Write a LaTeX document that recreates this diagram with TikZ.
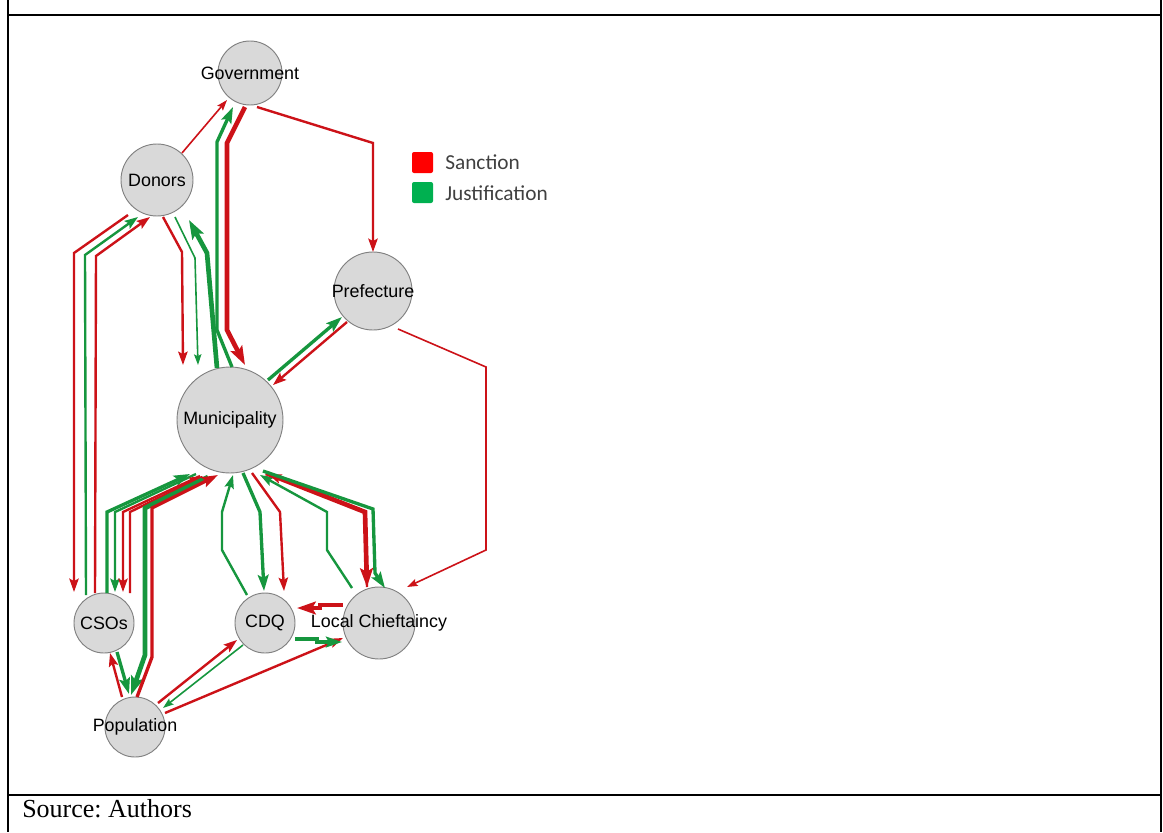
\documentclass[tikz,border=0pt]{standalone}
\usepackage{fontspec}
\setmainfont{Liberation Serif}
\newfontfamily\arialf{Liberation Sans}
\newfontfamily\calibrif{Carlito}
\usetikzlibrary{arrows.meta,calc}
\definecolor{edR}{RGB}{204,18,24}
\definecolor{edG}{RGB}{22,150,62}
\definecolor{ndfill}{RGB}{217,217,217}
\definecolor{ndline}{RGB}{128,128,128}
\definecolor{legR}{RGB}{255,0,0}
\definecolor{legG}{RGB}{0,176,80}
\definecolor{legT}{RGB}{64,64,64}
\tikzset{
  nd/.style={circle,draw=ndline,fill=ndfill,line width=0.7pt,inner sep=0pt,minimum size=#1},
  lbl/.style={font=\arialf\fontsize{13.4}{15}\selectfont,inner sep=0pt},
  legtxt/.style={font=\calibrif\fontsize{16}{18}\selectfont,text=legT,inner sep=0pt,anchor=west},
  wI/.style={line width=1.2pt,-{Stealth[length=8pt,width=5.5pt,inset=1.4pt]}},
  wII/.style={line width=1.8pt,-{Stealth[length=10pt,width=7pt,inset=1.8pt]}},
  wIII/.style={line width=2.5pt,-{Stealth[length=12pt,width=8pt,inset=2.2pt]}},
  wIV/.style={line width=3.5pt,-{Stealth[length=14pt,width=9.5pt,inset=2.6pt]}},
  sR/.style={draw=edR},
  sG/.style={draw=edG},
  frameline/.style={line width=1.5pt,draw=black},
}
\begin{document}
\begin{tikzpicture}[x=0.75pt,y=-0.75pt]
\useasboundingbox (0,0) rectangle (1163,832);
% frame
\draw[frameline] (8,0) -- (8,832);
\draw[frameline] (1161,0) -- (1161,832);
\draw[frameline] (8,15) -- (1161,15);
\draw[frameline] (8,795) -- (1161,795);
\node[anchor=base west,font=\fontsize{19.5}{23}\selectfont,inner sep=0pt] (src) at (22,817) {\frenchspacing Source: Authors};

% nodes
\node[nd=48pt] (gov) at (250,73) {};
\node[nd=54pt] (donors) at (157,180) {};
\node[nd=58.5pt] (pref) at (373,291) {};
\node[nd=79.5pt] (muni) at (230,420) {};
\node[nd=45pt] (csos) at (104,623) {};
\node[nd=45pt] (cdq) at (265,623) {};
\node[nd=54pt] (lc) at (379,623) {};
\node[nd=45pt] (pop) at (135,727) {};

% top
\draw[sR,wI] ($(donors)+(25,-27)$) -- ($(gov)+(-23,27)$);
\draw[sR,wII] ($(gov)+(7,34)$) -- (373,143) -- ($(pref)+(0,-39)$);
\draw[sR,wIV] ($(gov)+(-5,34)$) -- (227,143) -- (227,330) -- ($(muni)+(15,-55)$);
\draw[sG,wIII] ($(muni)+(2,-53)$) -- (217,330) -- (217,142) -- ($(gov)+(-17,34)$);
\draw[sR,wII] ($(donors)+(6,37)$) -- (182,252) -- ($(muni)+(-47,-55)$);
\draw[sG,wI] ($(donors)+(18,37)$) -- (195,258) -- ($(muni)+(-32,-55)$);
\draw[sG,wIV] ($(muni)+(-13,-52)$) -- (207,253) -- ($(donors)+(32,40)$);

% CSOs - Donors
\draw[sR,wII] ($(donors)+(-29,35)$) -- (74,253) -- ($(csos)+(-30,-31)$);
\draw[sG,wII] ($(csos)+(-18,-28)$) -- (85,255) -- ($(donors)+(-19,37)$);
\draw[sR,wII] ($(csos)+(-9,-30)$) -- (96,256) -- ($(donors)+(-7,37)$);

% CSOs - Municipality
\draw[sG,wIII] ($(csos)+(3,-30)$) -- (107,512) -- ($(muni)+(-40,54)$);
\draw[sG,wII] ($(muni)+(-34,54)$) -- (115,512) -- ($(csos)+(11,-31)$);
\draw[sR,wII] ($(muni)+(-30,56)$) -- (123,512) -- ($(csos)+(19,-31)$);
\draw[sR,wII] ($(csos)+(26,-30)$) -- (130,512) -- ($(muni)+(-27,56)$);

% Population - Municipality
\draw[sG,wIV] ($(muni)+(-22,57)$) -- (145,508) -- (145,655) -- ($(pop)+(-4,-32)$);
\draw[sR,wIII] ($(pop)+(2,-30)$) -- (152,657) -- (152,508) -- ($(muni)+(-12,55)$);

% CSOs - Population
\draw[sR,wII] ($(pop)+(-13,-30)$) -- ($(csos)+(6,30)$);
\draw[sG,wIII] ($(csos)+(13,29)$) -- ($(pop)+(-6,-33)$);

% Population - CDQ / Local Chieftaincy
\draw[sR,wII] ($(pop)+(23,-24)$) -- ($(cdq)+(-28,17)$);
\draw[sG,wI] ($(cdq)+(-22,22)$) -- ($(pop)+(28,-19)$);
\draw[sR,wII] ($(pop)+(30,-14)$) -- ($(lc)+(-36,15)$);

% CDQ - Municipality
\draw[sG,wII] ($(cdq)+(-18,-28)$) -- (222,550) -- (222,512) -- ($(muni)+(3,55)$);
\draw[sG,wIII] ($(muni)+(13,53)$) -- (260,512) -- ($(cdq)+(-1,-32)$);
\draw[sR,wII] ($(muni)+(22,53)$) -- (280,512) -- ($(cdq)+(19,-32)$);

% Local Chieftaincy - Municipality
\draw[sG,wII] ($(lc)+(-27,-35)$) -- (327,550) -- (327,512) -- ($(muni)+(30,55)$);
\draw[sR,wIV] ($(muni)+(36,53)$) -- (365,512) -- ($(lc)+(-12,-36)$);
\draw[sR,wII] ($(lc)+(-12,-36)$) -- (365,512) -- ($(muni)+(38,54)$);
\draw[sG,wIII] ($(muni)+(33,51)$) -- (373,509) -- (375,573) -- ($(lc)+(6,-35)$);

% Local Chieftaincy - CDQ
\draw[sR,wIV] ($(lc)+(-36,-18)$) -- (320,605) -- (320,608) -- ($(cdq)+(32,-15)$);
\draw[sG,wIII] ($(cdq)+(30,16)$) -- (317,639) -- (317,642) -- ($(lc)+(-37,19)$);

% Prefecture
\draw[sG,wIII] ($(muni)+(38,-40)$) -- ($(pref)+(-31,26)$);
\draw[sR,wII] ($(pref)+(-26,31)$) -- ($(muni)+(43,-35)$);
\draw[sR,wI] ($(pref)+(25,38)$) -- (486,367) -- (486,550) -- ($(lc)+(28,-36)$);

% labels
\node[lbl] at (gov) {Government};
\node[lbl] at (donors) {Donors};
\node[lbl] at (pref) {Prefecture};
\node[lbl] at (muni) {Municipality};
\node[lbl] at (csos) {CSOs};
\node[lbl] at (cdq) {CDQ};
\node[lbl] at (lc) {Local Chieftaincy};
\node[lbl] at (pop) {Population};

% legend
\fill[legR,rounded corners=1.5pt] (412,152) rectangle (433,173);
\fill[legG,rounded corners=1.5pt] (412,182) rectangle (433,203);
\node[legtxt] (legS) at (445,162) {Sanction};
\node[legtxt] (legJ) at (445,193) {Justification};
\end{tikzpicture}
\end{document}
